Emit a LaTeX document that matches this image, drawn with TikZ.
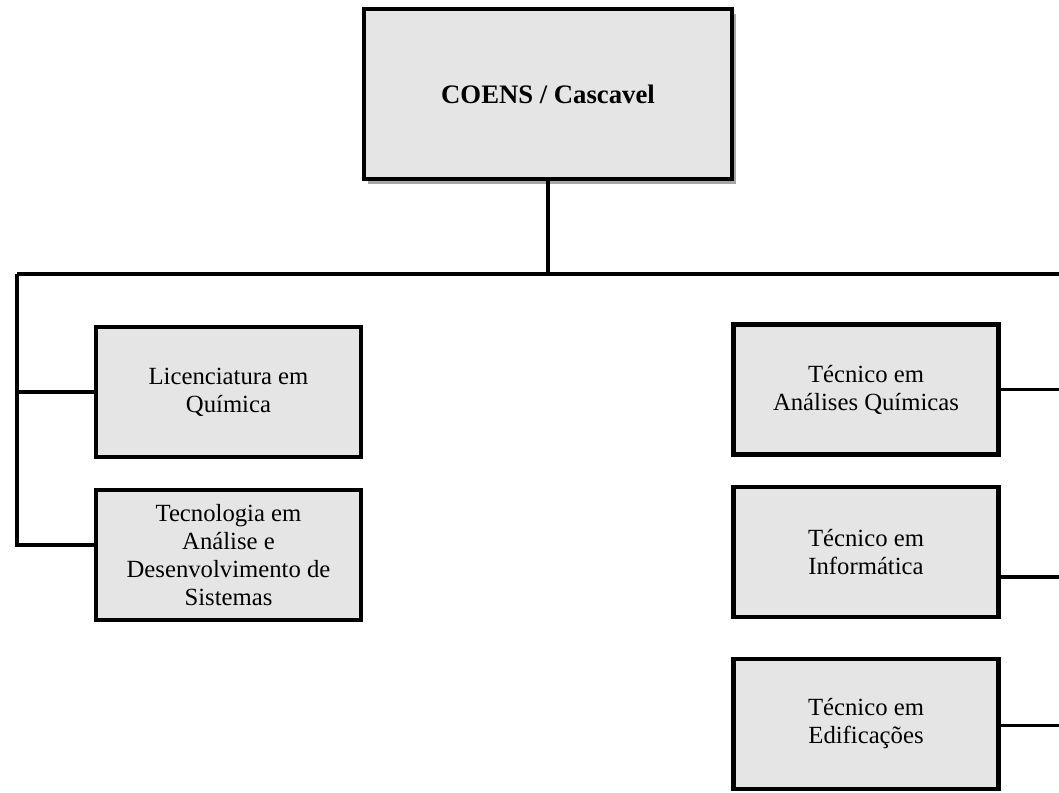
\documentclass[tikz,border=0pt]{standalone}
\usepackage{fontspec}
\setmainfont{Liberation Serif}
\usetikzlibrary{positioning,shadows}

\begin{document}
\begin{tikzpicture}[x=1pt,y=-1pt,
  kierunek/.style={
  % The shape:
  rectangle,
  % The size:
  minimum width=265pt,
  minimum height=130pt,
  % The border:
  line width=4.2pt,
  draw=black,
  % The filling:
  fill=gray!20,
  % Font
  font=\fontsize{24.7}{28}\selectfont,
  align=center
  },
  glowny/.style={
  kierunek,
  minimum width=368pt,
  minimum height=170pt,
  % shadow right and below
  drop shadow={shadow xshift=4pt,shadow yshift=-5pt,fill=black!35,opacity=1},
  font=\fontsize{26.7}{30}\selectfont\bfseries
  },
  linia/.style={line width=3.5pt}]
  \useasboundingbox (0,0) rectangle (1059,792);

  \node (coens) [glowny] at (548,94) {COENS / Cascavel};

  \node (lic) [kierunek] at (228.5,392) {Licenciatura em\\ Química};
  \node (tads) [kierunek,below=29pt of lic] {Tecnologia em\\ Análise e\\ Desenvolvimento de\\ Sistemas};

  \node (tecq) [kierunek] at (866,389.5) {Técnico em\\ Análises Químicas};
  \node (info) [kierunek,below=28pt of tecq] {Técnico em\\ Informática};
  \node (edif) [kierunek,below=38pt of info] {Técnico em\\ Edificações};

  \coordinate (lbus) at (17,274);
  \coordinate (rbus) at (1059,274);
  \coordinate (lbot) at (17,545);

  \draw[linia] (coens.south) -- (coens.south |- lbus);
  \draw[linia] (lbus) -- (rbus);
  \draw[linia] (lbus) -- (lbot) -- (lbot -| tads.west);
  \draw[linia] (lic.west) -- (lic.west -| lbus);

  \draw[linia] (tecq.east) -- (tecq.east -| rbus);
  \draw[linia] ([yshift=-25.5pt]info.east) -- ([yshift=-25.5pt]info.east -| rbus);
  \draw[linia] ([yshift=-1.5pt]edif.east) -- ([yshift=-1.5pt]edif.east -| rbus);
\end{tikzpicture}
\end{document}
